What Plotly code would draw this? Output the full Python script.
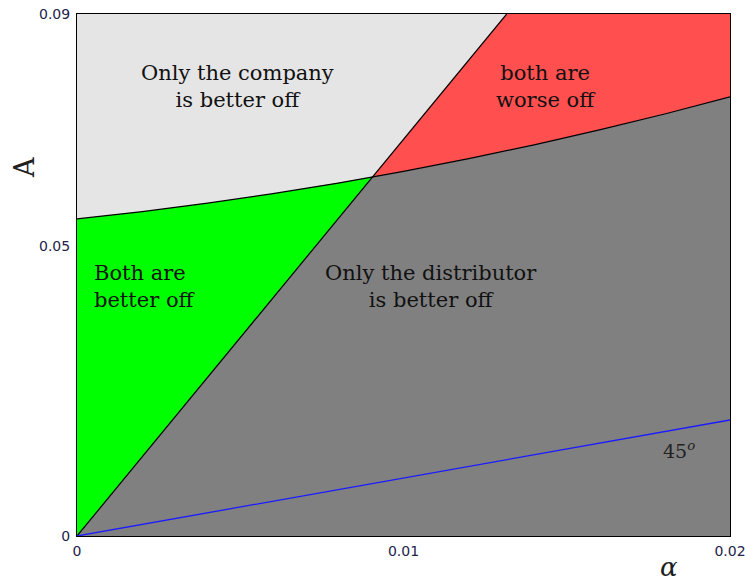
import numpy as np
import plotly.graph_objects as go

# Axis ticks
x_ticks = [0, 0.01, 0.02]
x_tick_text = ["0", "0.01", "0.02"]
y_ticks = [0, 0.05, 0.09]
y_tick_text = ["0", "0.05", "0.09"]
x_max = 0.02
y_max = 0.09

# Company indifference boundary A(alpha)
company_alpha = [0.0, 0.002, 0.004, 0.006, 0.008, 0.010, 0.012, 0.014, 0.016, 0.018, 0.020]
company_A = [0.05466, 0.05593, 0.05739, 0.05903, 0.06085, 0.06286,
             0.06506, 0.06744, 0.07001, 0.07276, 0.0757]

# Distributor indifference boundary (straight line from the origin)
distributor_alpha = [0.0, 0.01316]
distributor_A = [0.0, 0.09]

# 45 degree reference line
diag_alpha = [0.0, 0.02]
diag_A = [0.0, 0.02]

ca = np.array(company_alpha)
cA = np.array(company_A)
slope = (distributor_A[1] - distributor_A[0]) / (distributor_alpha[1] - distributor_alpha[0])

# crossing of the two boundaries
fine_a = np.linspace(ca[0], ca[-1], 2001)
fine_c = np.interp(fine_a, ca, cA)
diff = slope * fine_a - fine_c
k = np.where(np.diff(np.sign(diff)) != 0)[0][0]
a_i = fine_a[k] - diff[k] * (fine_a[k + 1] - fine_a[k]) / (diff[k + 1] - diff[k])
A_i = float(np.interp(a_i, ca, cA))
a_top = distributor_alpha[1]

left_mask = ca < a_i
right_mask = ca > a_i
curve_left_x = list(ca[left_mask]) + [a_i]
curve_left_y = list(cA[left_mask]) + [A_i]
curve_right_x = [a_i] + list(ca[right_mask])
curve_right_y = [A_i] + list(cA[right_mask])

C_LIGHT = "#e5e5e5"
C_RED = "#ff4f4f"
C_GREEN = "#00ff00"
C_GRAY = "#808080"

fig = go.Figure()

def region(xs, ys, color):
    fig.add_trace(go.Scatter(x=xs, y=ys, mode="lines", fill="toself",
                             fillcolor=color, line=dict(width=0),
                             hoverinfo="skip", showlegend=False))

# Only the company is better off
region(curve_left_x + [a_top, 0, 0], curve_left_y + [y_max, y_max, curve_left_y[0]], C_LIGHT)
# both are worse off
region([a_i, a_top, x_max] + curve_right_x[::-1],
       [A_i, y_max, y_max] + curve_right_y[::-1], C_RED)
# Both are better off
region([0] + curve_left_x + [0], [0] + curve_left_y + [0], C_GREEN)
# Only the distributor is better off
region([0] + curve_right_x + [x_max, 0], [0] + curve_right_y + [0, 0], C_GRAY)

# boundaries
fig.add_trace(go.Scatter(x=company_alpha, y=company_A, mode="lines",
                         line=dict(color="black", width=1.2), hoverinfo="skip", showlegend=False))
fig.add_trace(go.Scatter(x=distributor_alpha, y=distributor_A, mode="lines",
                         line=dict(color="black", width=1.2), hoverinfo="skip", showlegend=False))
fig.add_trace(go.Scatter(x=diag_alpha, y=diag_A, mode="lines",
                         line=dict(color="#1a1aff", width=1.3), hoverinfo="skip", showlegend=False))

SERIF = "DejaVu Serif, Liberation Serif, serif"
serif = dict(family=SERIF, size=21, color="#111111")

def label(x, y, text, align="center", xanchor="center", font=serif):
    fig.add_annotation(x=x, y=y, xref="x", yref="y", text=text, showarrow=False,
                       align=align, xanchor=xanchor, yanchor="middle", font=font)

label(0.00491, 0.0775, "Only the company<br>is better off")
label(0.01436, 0.0775, "both are<br>worse off")
label(0.00045, 0.0430, "Both are<br>better off", align="left", xanchor="left")
label(0.01085, 0.0430, "Only the distributor<br>is better off")
label(0.01845, 0.0148, "45<sup><i>o</i></sup>",
      font=dict(family=SERIF, size=19, color="#222222"))

W, H = 745, 585
L, R, T, B = 77, 15, 14, 49
pw, ph = W - L - R, H - T - B

def px_to_paper(px, py):
    return (px - L) / pw, 1 - (py - T) / ph

# axis titles
ax_x, ax_y = px_to_paper(24, 168)
fig.add_annotation(x=ax_x, y=ax_y, xref="paper", yref="paper", text="A", showarrow=False,
                   textangle=-90, xanchor="center", yanchor="middle",
                   font=dict(family=SERIF, size=27, color="#202020"))
al_x, al_y = px_to_paper(669, 567)
fig.add_annotation(x=al_x, y=al_y, xref="paper", yref="paper", text="<i>α</i>", showarrow=False,
                   xanchor="center", yanchor="middle",
                   font=dict(family=SERIF, size=26, color="#202020"))

tick_font = dict(family="DejaVu Sans, sans-serif", size=14, color="#23234a")
fig.update_layout(
    width=W, height=H, autosize=False,
    margin=dict(l=L, r=R, t=T, b=B, autoexpand=False),
    paper_bgcolor="white", plot_bgcolor="white",
    xaxis=dict(range=[0, x_max], tickvals=x_ticks, ticktext=x_tick_text,
               showgrid=False, zeroline=False, showline=True, linecolor="black",
               linewidth=1, mirror=True, ticks="", tickfont=tick_font,
               automargin=False, ticklabelstandoff=2, ticklabeloverflow="allow"),
    yaxis=dict(range=[0, y_max], tickvals=y_ticks, ticktext=y_tick_text,
               showgrid=False, zeroline=False, showline=True, linecolor="black",
               linewidth=1, mirror=True, ticks="", tickfont=tick_font,
               automargin=False, ticklabelstandoff=3, ticklabeloverflow="allow"),
)

fig.write_html("out.html")
